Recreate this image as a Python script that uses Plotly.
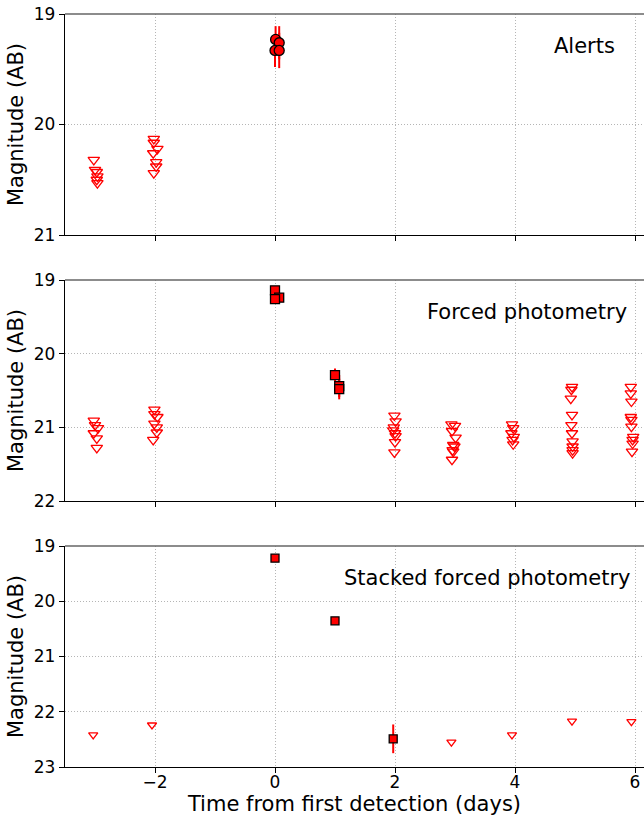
import plotly.graph_objects as go
from plotly.subplots import make_subplots

# ---------------- data ----------------
# Panel 1: Alerts
alert_det_t = [0.01, 0.07, 0.0, 0.07]
alert_det_mag = [19.23, 19.26, 19.33, 19.33]
alert_det_err = [0.12, 0.15, 0.15, 0.16]
alert_lim_t = [-3.02, -3.0, -2.97, -2.96, -2.97, -2.96,
               -2.02, -2.02, -1.96, -2.03, -1.98, -1.98, -2.02]
alert_lim_mag = [20.32, 20.41, 20.43, 20.47, 20.50, 20.53,
                 20.13, 20.165, 20.22, 20.26, 20.34, 20.38, 20.44]

# Panel 2: Forced photometry
forced_det_t = [0.0, 0.07, 0.0, 1.0, 1.07, 1.07]
forced_det_mag = [19.14, 19.24, 19.26, 20.29, 20.44, 20.48]
forced_det_err = [0.04, 0.04, 0.04, 0.09, 0.15, 0.14]
forced_lim_t = [-3.02, -3.0, -2.95, -3.02, -2.97, -2.97,
                -2.01, -2.01, -1.96, -2.01, -1.97, -1.97, -2.03,
                1.99, 2.01, 1.98, 1.97, 2.0, 2.01, 2.0, 1.99,
                2.94, 3.0, 2.95, 3.01, 2.97, 2.99, 2.96, 2.97, 2.95,
                3.95, 3.97, 3.94, 3.98, 3.96, 3.97,
                4.95, 4.94, 4.93, 4.95, 4.94, 4.95, 4.96, 4.96, 4.96, 4.96,
                5.93, 5.93, 5.94, 5.93, 5.94, 5.94, 5.97, 5.96, 5.96, 5.95]
forced_lim_mag = [20.91, 20.97, 21.01, 21.08, 21.15, 21.28,
                  20.76, 20.82, 20.86, 20.95, 21.0, 21.07, 21.17,
                  20.84, 20.92, 21.0, 21.04, 21.08, 21.12, 21.2, 21.34,
                  20.96, 20.98, 21.05, 21.14, 21.24, 21.26, 21.31, 21.33, 21.44,
                  20.96, 21.01, 21.08, 21.13, 21.17, 21.23,
                  20.45, 20.49, 20.61, 20.83, 20.97, 21.08, 21.19, 21.26, 21.31, 21.35,
                  20.45, 20.54, 20.65, 20.86, 20.90, 20.99, 21.13, 21.17, 21.22, 21.33]

# Panel 3: Stacked forced photometry
stack_det_t = [0.0, 1.0, 1.97]
stack_det_mag = [19.22, 20.355, 22.49]
stack_det_err = [0.02, 0.03, 0.26]
stack_lim_t = [-3.03, -2.05, 2.94, 3.95, 4.95, 5.94]
stack_lim_mag = [22.42, 22.24, 22.55, 22.42, 22.17, 22.18]

panel_labels = ["Alerts", "Forced photometry", "Stacked forced photometry"]
y_ranges = [[21, 19], [22, 19], [23, 19]]
y_ticks = [[19, 20, 21], [19, 20, 21, 22], [19, 20, 21, 22, 23]]
x_ticks = [-2, 0, 2, 4, 6]
x_ticktext = ["\u22122", "0", "2", "4", "6"]

# ---------------- figure ----------------
fig = make_subplots(rows=3, cols=1, shared_xaxes=False, vertical_spacing=0.0)

FONT = "DejaVu Sans"

def det_trace(t, m, e, symbol, size, row):
    fig.add_trace(go.Scatter(
        x=t, y=m, mode="markers",
        error_y=dict(type="data", array=e, color="red", thickness=2, width=0),
        marker=dict(symbol=symbol, size=size, color="red",
                    line=dict(color="black", width=1.3)),
        showlegend=False), row=row, col=1)

def lim_trace(t, m, size, row):
    fig.add_trace(go.Scatter(
        x=t, y=m, mode="markers",
        marker=dict(symbol="triangle-down-open", size=size, color="red",
                    line=dict(color="red", width=1.3)),
        showlegend=False), row=row, col=1)

lim_trace(alert_lim_t, alert_lim_mag, 10, 1)
det_trace(alert_det_t, alert_det_mag, alert_det_err, "circle", 10, 1)
lim_trace(forced_lim_t, forced_lim_mag, 10, 2)
det_trace(forced_det_t, forced_det_mag, forced_det_err, "square", 9, 2)
lim_trace(stack_lim_t, stack_lim_mag, 8, 3)
det_trace(stack_det_t, stack_det_mag, stack_det_err, "square", 8, 3)

H = 817
top, bottom = 14, 50
plot_h = H - top - bottom
panel_px = [(14, 235), (280, 501), (546, 767)]
domains = [[(767 - b) / plot_h, (767 - t) / plot_h] for t, b in panel_px]

GRID = dict(showgrid=True, gridcolor="#b5b5b5", griddash="1px,2px", gridwidth=1)

for i in range(3):
    r = i + 1
    fig.update_xaxes(
        range=[-3.5, 6.15], tickvals=x_ticks, ticktext=x_ticktext,
        showticklabels=(r == 3), ticks="outside", ticklen=5, tickcolor="black",
        showline=True, linecolor="black", linewidth=1.3, mirror=False,
        zeroline=False, tickfont=dict(family=FONT, size=17, color="black"),
        row=r, col=1, **GRID)
    fig.update_yaxes(
        range=y_ranges[i], tickvals=y_ticks[i], domain=domains[i],
        ticks="outside", ticklen=5, tickcolor="black",
        showline=True, linecolor="black", linewidth=1.3,
        zeroline=False, tickfont=dict(family=FONT, size=17, color="black"),
        title=dict(text="Magnitude (AB)", font=dict(family=FONT, size=21, color="black"),
                   standoff=4),
        row=r, col=1, **GRID)
    yref = "y" if r == 1 else f"y{r}"
    xref = "x" if r == 1 else f"x{r}"
    fig.add_shape(type="line", xref=f"{xref} domain", yref=f"{yref} domain",
                  x0=0, x1=1, y0=1, y1=1, line=dict(color="#666666", width=1.6))
    ann_x = [0.953, 0.974, 0.979][i]
    fig.add_annotation(text=panel_labels[i], xref=f"{xref} domain", yref=f"{yref} domain",
                       x=ann_x, y=1 - 32 / 221, xanchor="right", yanchor="middle",
                       showarrow=False, font=dict(family=FONT, size=21, color="black"))

fig.update_xaxes(ticklabelstandoff=-6,
                 title=dict(text="Time from first detection (days)",
                            font=dict(family=FONT, size=21, color="black"), standoff=4),
                 row=3, col=1)

fig.update_layout(
    width=644, height=817,
    margin=dict(l=65, r=0, t=top, b=bottom, autoexpand=False),
    plot_bgcolor="white", paper_bgcolor="white",
    font=dict(family=FONT, color="black"),
)

fig.write_html("out.html", config={"displayModeBar": False},
               post_script="document.body.style.margin='0';document.body.style.overflow='hidden';")
